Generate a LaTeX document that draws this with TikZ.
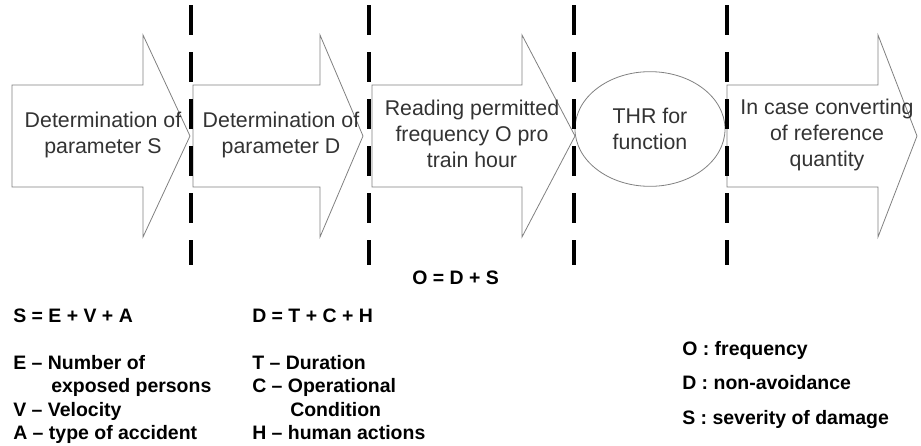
\documentclass[tikz,border=0pt]{standalone}
\usepackage{fontspec}
\setmainfont{Liberation Sans}
\usetikzlibrary{shapes.geometric}
\begin{document}
\begin{tikzpicture}[x=7.5pt,y=7.5pt,
% common options for the stage outlines:
stage/.style = {draw=black!50, line width=0.6pt, fill=white},
% common options for the stage texts:
stagetext/.style = {align=center, text=black!80, inner sep=0,
            font=\fontsize{16}{19.5}\selectfont},
% common options for the separators:
border/.style = {line width=3pt, dash pattern=on 22.5pt off 12.75pt},
% common options for the notes below:
note/.style = {rectangle, anchor=base west, inner sep=0,
            font=\bfseries\fontsize{14.6}{17.5}\selectfont}]
\useasboundingbox (0,0) rectangle (92.1,-44.6);
% stages
\draw[stage] (1.2,-8.5) -- (14.3,-8.5) -- (14.3,-3.5) -- (19.0,-13.6)
  -- (14.3,-23.7) -- (14.3,-18.7) -- (1.2,-18.7) -- cycle;
\draw[stage] (19.3,-8.5) -- (32.0,-8.5) -- (32.0,-3.5) -- (36.3,-13.6)
  -- (32.0,-23.7) -- (32.0,-18.7) -- (19.3,-18.7) -- cycle;
\draw[stage] (37.2,-8.5) -- (52.2,-8.5) -- (52.2,-3.5) -- (57.5,-13.6)
  -- (52.2,-23.7) -- (52.2,-18.7) -- (37.2,-18.7) -- cycle;
\draw[stage] (72.7,-8.5) -- (87.8,-8.5) -- (87.8,-3.5) -- (91.7,-13.6)
  -- (87.8,-23.7) -- (87.8,-18.7) -- (72.7,-18.7) -- cycle;
\node[stage, stagetext, ellipse, minimum width=112.5pt, minimum height=86pt] (thr)
  at (65.0,-12.9) {THR for\\function};
\node[stagetext] (detS) at (10.3,-13.5) {Determination of\\parameter S};
\node[stagetext] (detD) at (28.1,-13.5) {Determination of\\parameter D};
\node[stagetext] (readO) at (47.2,-13.4) {Reading permitted\\frequency O pro\\train hour};
\node[stagetext] (conv) at (82.7,-13.5) {In case converting\\of reference\\quantity};
% separators
\coordinate (t1) at (19.1,-0.5); \coordinate (b1) at (19.1,-26.5);
\coordinate (t2) at (36.9,-0.5); \coordinate (b2) at (36.9,-26.5);
\coordinate (t3) at (57.4,-0.5); \coordinate (b3) at (57.4,-26.5);
\coordinate (t4) at (72.7,-0.5); \coordinate (b4) at (72.7,-26.5);
\draw[border] (t1) -- (b1);
\draw[border] (t2) -- (b2);
\draw[border] (t3) -- (b3);
\draw[border] (t4) -- (b4);
% notes
\node[note] (O0) at (41.2,-28.4) {O = D + S};
\node[note] (S0) at (1.3,-32.2) {S = E + V + A};
\node[note] (S1) at (1.3,-36.9) {E -- Number of};
\node[note] (S2) at (5.1,-39.2) {exposed persons};
\node[note] (S3) at (1.3,-41.6) {V -- Velocity};
\node[note] (S4) at (1.3,-43.9) {A -- type of accident};
\node[note] (D0) at (25.2,-32.2) {D = T + C + H};
\node[note] (D1) at (25.2,-36.9) {T -- Duration};
\node[note] (D2) at (25.2,-39.2) {C -- Operational};
\node[note] (D3) at (29.0,-41.6) {Condition};
\node[note] (D4) at (25.2,-43.9) {H -- human actions};
\node[note] (L1) at (68.2,-35.5) {O : frequency};
\node[note] (L2) at (68.2,-38.9) {D : non-avoidance};
\node[note] (L3) at (68.2,-42.4) {S : severity of damage};
\end{tikzpicture}
\end{document}
